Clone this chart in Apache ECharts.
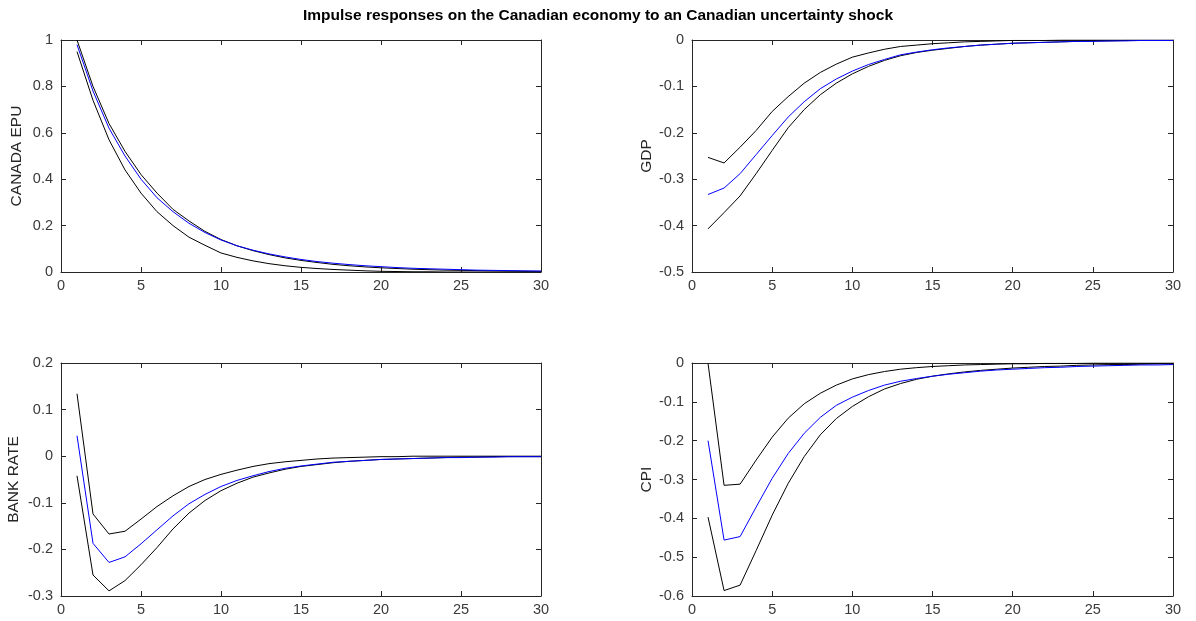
<!DOCTYPE html>
<html>
<head>
<meta charset="utf-8">
<script src="https://cdn.jsdelivr.net/npm/echarts@6/dist/echarts.min.js"></script>
<style>
  html, body { margin: 0; padding: 0; background: #fff; }
  #chart { width: 1196px; height: 621px; }
</style>
</head>
<body>
<div id="chart"></div>
<script>
// Horizons of the impulse responses
const horizons = [1,2,3,4,5,6,7,8,9,10,11,12,13,14,15,16,17,18,19,20,21,22,23,24,25,26,27,28,29,30];

// CANADA EPU: median, upper and lower bands
const epuMedian = [0.98,0.78,0.62,0.50,0.40,0.32,0.26,0.21,0.17,0.138,0.113,0.094,0.078,0.065,0.054,0.045,0.038,0.032,0.027,0.023,0.019,0.016,0.014,0.012,0.010,0.008,0.007,0.006,0.005,0.004];
const epuUpper  = [1.00,0.80,0.64,0.52,0.42,0.34,0.27,0.22,0.175,0.14,0.113,0.092,0.075,0.061,0.050,0.041,0.033,0.027,0.022,0.018,0.015,0.012,0.010,0.008,0.007,0.006,0.005,0.004,0.003,0.003];
const epuLower  = [0.95,0.74,0.57,0.44,0.34,0.26,0.20,0.15,0.115,0.082,0.063,0.048,0.036,0.027,0.020,0.015,0.011,0.008,0.005,0.003,0.002,0.001,0.001,0,0,0,0,0,0,0];

// GDP
const gdpMedian = [-0.333,-0.319,-0.288,-0.247,-0.206,-0.166,-0.133,-0.105,-0.084,-0.067,-0.053,-0.042,-0.032,-0.026,-0.021,-0.017,-0.014,-0.011,-0.009,-0.007,-0.006,-0.005,-0.004,-0.003,-0.003,-0.002,-0.002,-0.001,-0.001,-0.001];
const gdpUpper  = [-0.253,-0.265,-0.231,-0.195,-0.154,-0.122,-0.093,-0.070,-0.052,-0.037,-0.028,-0.020,-0.014,-0.011,-0.008,-0.006,-0.004,-0.003,-0.002,-0.001,-0.001,-0.001,0,0,0,0,0,0,0,0];
const gdpLower  = [-0.407,-0.372,-0.336,-0.288,-0.238,-0.189,-0.150,-0.118,-0.093,-0.073,-0.057,-0.044,-0.034,-0.027,-0.022,-0.018,-0.014,-0.011,-0.009,-0.007,-0.006,-0.005,-0.004,-0.003,-0.002,-0.002,-0.001,-0.001,-0.001,-0.001];

// BANK RATE
const rateMedian = [0.044,-0.187,-0.228,-0.216,-0.188,-0.158,-0.128,-0.102,-0.082,-0.065,-0.052,-0.042,-0.033,-0.026,-0.021,-0.017,-0.013,-0.011,-0.009,-0.007,-0.006,-0.005,-0.004,-0.003,-0.003,-0.002,-0.002,-0.001,-0.001,-0.001];
const rateUpper  = [0.134,-0.124,-0.167,-0.161,-0.135,-0.108,-0.085,-0.065,-0.050,-0.039,-0.030,-0.022,-0.016,-0.012,-0.009,-0.006,-0.004,-0.003,-0.002,-0.001,-0.001,0,0,0,0,0,0,0,0,0];
const rateLower  = [-0.042,-0.255,-0.289,-0.267,-0.233,-0.196,-0.156,-0.122,-0.095,-0.074,-0.058,-0.045,-0.036,-0.028,-0.022,-0.018,-0.014,-0.011,-0.009,-0.007,-0.006,-0.005,-0.004,-0.003,-0.002,-0.002,-0.001,-0.001,-0.001,-0.001];

// CPI
const cpiMedian = [-0.200,-0.456,-0.447,-0.371,-0.297,-0.233,-0.181,-0.140,-0.109,-0.088,-0.071,-0.057,-0.047,-0.040,-0.034,-0.029,-0.025,-0.021,-0.018,-0.016,-0.014,-0.012,-0.011,-0.009,-0.008,-0.007,-0.006,-0.005,-0.005,-0.004];
const cpiUpper  = [-0.001,-0.315,-0.312,-0.250,-0.191,-0.142,-0.105,-0.078,-0.057,-0.041,-0.030,-0.022,-0.016,-0.012,-0.009,-0.007,-0.005,-0.004,-0.003,-0.002,-0.002,-0.001,-0.001,-0.001,0,0,0,0,0,0];
const cpiLower  = [-0.397,-0.586,-0.572,-0.483,-0.392,-0.310,-0.241,-0.185,-0.143,-0.112,-0.087,-0.067,-0.053,-0.042,-0.034,-0.028,-0.023,-0.019,-0.016,-0.013,-0.011,-0.009,-0.008,-0.006,-0.005,-0.004,-0.004,-0.003,-0.002,-0.002];

// Panel definitions: axis name, y range, tick step
const panelNames = ['CANADA EPU', 'GDP', 'BANK RATE', 'CPI'];
const yMins = [0, -0.5, -0.3, -0.6];
const yMaxs = [1, 0, 0.2, 0];
const ySteps = [0.2, 0.1, 0.1, 0.1];

const panelData = [
  [epuUpper, epuLower, epuMedian],
  [gdpUpper, gdpLower, gdpMedian],
  [rateUpper, rateLower, rateMedian],
  [cpiUpper, cpiLower, cpiMedian]
];

const grids = [
  { left: 61,  top: 40,  width: 480, height: 232 },
  { left: 692, top: 40,  width: 481, height: 232 },
  { left: 61,  top: 363, width: 480, height: 233 },
  { left: 692, top: 363, width: 481, height: 233 }
];
const nameGaps = [36, 34, 39, 37];

const axisColor = '#262626';
const labelColor = '#3a3a3a';
const fontFamily = 'Liberation Sans, Arial, Helvetica, sans-serif';
const tickFont = 14.5;
const nameFont = 15.5;

const xAxes = [], yAxes = [], series = [];
grids.forEach((g, i) => {
  // bottom axis with labels
  xAxes.push({
    type: 'value', gridIndex: i, min: 0, max: 30, interval: 5, position: 'bottom',
    axisLine: { show: true, onZero: false, lineStyle: { color: axisColor, width: 1 } },
    axisTick: { show: true, inside: true, length: 5, lineStyle: { color: axisColor } },
    axisLabel: { color: labelColor, fontSize: tickFont, fontFamily, margin: 6 },
    splitLine: { show: false }
  });
  // top mirror of the box
  xAxes.push({
    type: 'value', gridIndex: i, min: 0, max: 30, interval: 5, position: 'top',
    axisLine: { show: true, onZero: false, lineStyle: { color: axisColor, width: 1 } },
    axisTick: { show: true, inside: true, length: 5, lineStyle: { color: axisColor } },
    axisLabel: { show: false },
    splitLine: { show: false }
  });
  // left axis with labels and name
  yAxes.push({
    type: 'value', gridIndex: i, min: yMins[i], max: yMaxs[i], interval: ySteps[i], position: 'left',
    name: panelNames[i], nameLocation: 'middle', nameGap: nameGaps[i], nameRotate: 90,
    nameTextStyle: { color: axisColor, fontSize: nameFont, fontFamily },
    axisLine: { show: true, onZero: false, lineStyle: { color: axisColor, width: 1 } },
    axisTick: { show: true, inside: true, length: 5, lineStyle: { color: axisColor } },
    axisLabel: { color: labelColor, fontSize: tickFont, fontFamily, margin: 8,
                 formatter: v => String(Math.round(v * 10) / 10) },
    splitLine: { show: false }
  });
  // right mirror of the box
  yAxes.push({
    type: 'value', gridIndex: i, min: yMins[i], max: yMaxs[i], interval: ySteps[i], position: 'right',
    axisLine: { show: true, onZero: false, lineStyle: { color: axisColor, width: 1 } },
    axisTick: { show: true, inside: true, length: 5, lineStyle: { color: axisColor } },
    axisLabel: { show: false },
    splitLine: { show: false }
  });

  // bands in black, median in blue on top
  const colors = ['#000000', '#000000', '#0000ff'];
  panelData[i].forEach((vals, k) => {
    series.push({
      type: 'line',
      xAxisIndex: i * 2,
      yAxisIndex: i * 2,
      data: horizons.map((h, j) => [h, vals[j]]),
      symbol: 'none',
      silent: true,
      animation: false,
      lineStyle: { color: colors[k], width: 1 },
      z: k === 2 ? 3 : 2
    });
  });
});

const chart = echarts.init(document.getElementById('chart'), null, { renderer: 'canvas' });
chart.setOption({
  animation: false,
  backgroundColor: '#ffffff',
  title: {
    text: 'Impulse responses on the Canadian economy to an Canadian uncertainty shock',
    left: 'center', top: 3,
    textStyle: { color: '#000', fontSize: 15.5, fontWeight: 'bold', fontFamily }
  },
  grid: grids,
  xAxis: xAxes,
  yAxis: yAxes,
  series
});
</script>
</body>
</html>
